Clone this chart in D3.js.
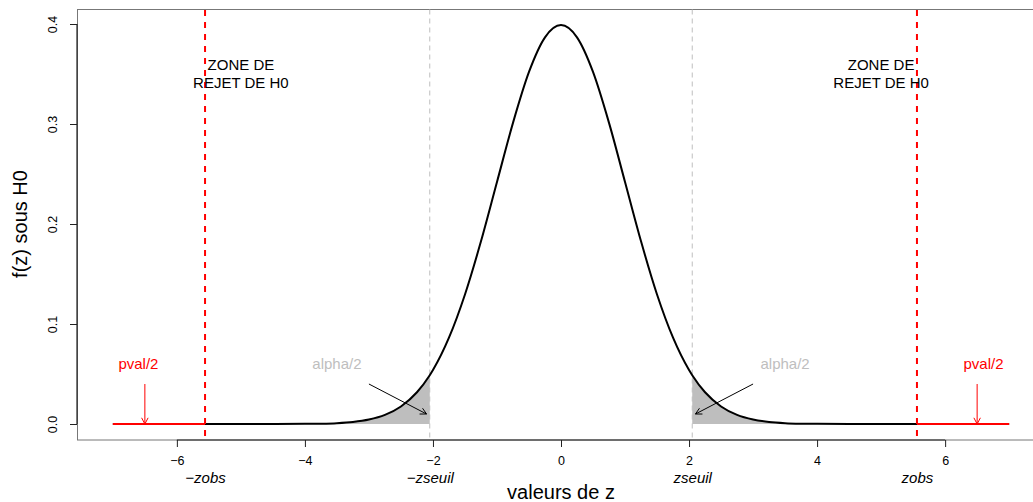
<!DOCTYPE html>
<html>
<head>
<meta charset="utf-8">
<script src="https://cdn.jsdelivr.net/npm/d3@7"></script>
<style>
  html, body { margin: 0; padding: 0; background: #fff; }
  svg { display: block; font-family: "Liberation Sans", Arial, sans-serif; }
</style>
</head>
<body>
<svg id="chart" width="1033" height="502"></svg>
<script>
// Standard normal density under H0, sampled along z
const zValues = [-7, -6, -5, -4.5, -4, -3.75, -3.5, -3.25, -3, -2.75, -2.5, -2.25, -2.05, -2, -1.75, -1.5, -1.25, -1, -0.75, -0.5, -0.25,
                 0, 0.25, 0.5, 0.75, 1, 1.25, 1.5, 1.75, 2, 2.05, 2.25, 2.5, 2.75, 3, 3.25, 3.5, 3.75, 4, 4.5, 5, 6, 7];
const fValues = [0, 0, 0.0000015, 0.000016, 0.000134, 0.000353, 0.000873, 0.002029, 0.004432, 0.009094, 0.017528, 0.031740, 0.048800, 0.053991, 0.086277, 0.129518, 0.182649, 0.241971, 0.301137, 0.352065, 0.386668,
                 0.398942, 0.386668, 0.352065, 0.301137, 0.241971, 0.182649, 0.129518, 0.086277, 0.053991, 0.048800, 0.031740, 0.017528, 0.009094, 0.004432, 0.002029, 0.000873, 0.000353, 0.000134, 0.000016, 0.0000015, 0, 0];

// Thresholds
const zseuil = 2.05;
const zobs = 5.56;

// Axis ticks
const xTicks = [-6, -4, -2, 0, 2, 4, 6];
const yTicks = [0, 0.1, 0.2, 0.3, 0.4];
const critPositions = [-zobs, -zseuil, zseuil, zobs];
const critNames = ["\u2212zobs", "\u2212zseuil", "zseuil", "zobs"];

// Annotations
const zoneX = [-5, 5];
const zoneY = 0.35;
const pvalX = [-6.6, 6.6];
const pvalArrowX = [-6.5, 6.5];
const alphaX = [-3.5, 3.5];
const alphaArrowFrom = [[-3, 0.04], [3, 0.04]];
const alphaArrowTo = [[-2.1, 0.01], [2.1, 0.01]];
const labelY = 0.06;

const curve = zValues.map((z, i) => ({ z, f: fValues[i] }));

const svg = d3.select("#chart");
const x = d3.scaleLinear().domain([-7.56, 7.56]).range([77, 1045]);
const y = d3.scaleLinear().domain([-0.016, 0.416]).range([440, 8]);

const RED = "#ff0000";
const GRAY = "#bebebe";

// plot frame
svg.append("rect")
  .attr("x", 77.5).attr("y", 9.5)
  .attr("width", 1045 - 77).attr("height", 440 - 9.5)
  .attr("fill", "none").attr("stroke", "#777").attr("stroke-width", 1);

const plot = svg.append("g");

// shaded alpha/2 tails
const area = d3.area().x(d => x(d.z)).y0(y(0)).y1(d => y(d.f)).curve(d3.curveMonotoneX);
plot.append("path").datum(curve.filter(d => d.z <= -zseuil + 1e-9))
  .attr("d", area).attr("fill", GRAY);
plot.append("path").datum(curve.filter(d => d.z >= zseuil - 1e-9))
  .attr("d", area).attr("fill", GRAY);

// threshold lines
[-zseuil, zseuil].forEach(v => {
  plot.append("line")
    .attr("x1", x(v)).attr("x2", x(v)).attr("y1", 9.5).attr("y2", 440)
    .attr("stroke", GRAY).attr("stroke-width", 1).attr("stroke-dasharray", "5,4");
});

// density curve
const line = d3.line().x(d => x(d.z)).y(d => y(d.f)).curve(d3.curveMonotoneX);
plot.append("path").datum(curve)
  .attr("d", line).attr("fill", "none").attr("stroke", "#000").attr("stroke-width", 2)
  .attr("stroke-linejoin", "round");

// p-value segments beyond the observed statistic
[[-7, -zobs], [zobs, 7]].forEach(([a, b]) => {
  plot.append("line")
    .attr("x1", x(a)).attr("x2", x(b)).attr("y1", y(0)).attr("y2", y(0))
    .attr("stroke", RED).attr("stroke-width", 2);
});

// observed statistic lines
[-zobs, zobs].forEach(v => {
  plot.append("line")
    .attr("x1", x(v)).attr("x2", x(v)).attr("y1", 10).attr("y2", 440)
    .attr("stroke", RED).attr("stroke-width", 2).attr("stroke-dasharray", "6,6");
});

// rejection zone labels
zoneX.forEach(v => {
  const t = plot.append("text")
    .attr("x", x(v)).attr("y", y(zoneY))
    .attr("text-anchor", "middle").attr("font-size", 15).attr("fill", "#000");
  t.append("tspan").attr("x", x(v)).attr("dy", "-0.25em").text("ZONE DE");
  t.append("tspan").attr("x", x(v)).attr("dy", "1.18em").text("REJET DE H0");
});

function arrow(g, x0, y0, x1, y1, color) {
  g.append("line").attr("x1", x0).attr("y1", y0).attr("x2", x1).attr("y2", y1)
    .attr("stroke", color).attr("stroke-width", 1);
  const ang = Math.atan2(y1 - y0, x1 - x0);
  const len = 7, spread = Math.PI / 6.5;
  [ang + Math.PI - spread, ang + Math.PI + spread].forEach(a => {
    g.append("line").attr("x1", x1).attr("y1", y1)
      .attr("x2", x1 + len * Math.cos(a)).attr("y2", y1 + len * Math.sin(a))
      .attr("stroke", color).attr("stroke-width", 1);
  });
}

// p-value labels and arrows
pvalX.forEach((v, i) => {
  plot.append("text").attr("x", x(v)).attr("y", y(labelY)).attr("dy", "0.35em")
    .attr("text-anchor", "middle").attr("font-size", 15).attr("fill", RED).text("pval/2");
  arrow(plot, x(pvalArrowX[i]), y(0.04), x(pvalArrowX[i]), y(0.0), RED);
});

// alpha labels and arrows
alphaX.forEach((v, i) => {
  plot.append("text").attr("x", x(v)).attr("y", y(labelY)).attr("dy", "0.35em")
    .attr("text-anchor", "middle").attr("font-size", 15).attr("fill", GRAY).text("alpha/2");
  arrow(plot, x(alphaArrowFrom[i][0]), y(alphaArrowFrom[i][1]), x(alphaArrowTo[i][0]), y(alphaArrowTo[i][1]), "#000");
});

// x axis
const xAxis = svg.append("g").attr("transform", "translate(0,440)")
  .call(d3.axisBottom(x).tickValues(xTicks).tickSize(7).tickPadding(9)
    .tickFormat(d => d < 0 ? "\u2212" + Math.abs(d) : String(d)));
xAxis.select(".domain").remove();
xAxis.selectAll(".tick line").attr("stroke", "#222");
xAxis.selectAll(".tick text").attr("font-size", 12.5).attr("fill", "#000")
  .attr("font-family", "Liberation Sans, Arial, sans-serif");
svg.append("line").attr("x1", x(xTicks[0])).attr("x2", x(xTicks[xTicks.length - 1]))
  .attr("y1", 440).attr("y2", 440).attr("stroke", "#222").attr("stroke-width", 1.2);

// critical value labels under the axis
const crit = svg.append("g").attr("transform", "translate(0,440)")
  .call(d3.axisBottom(x).tickValues(critPositions).tickSize(0).tickPadding(38)
    .tickFormat((d, i) => critNames[i]));
crit.select(".domain").remove();
crit.selectAll(".tick text").attr("font-size", 15).attr("font-style", "italic").attr("fill", "#000")
  .attr("font-family", "Liberation Sans, Arial, sans-serif").attr("dy", 0).attr("y", 42.5);

// y axis
const yAxis = svg.append("g").attr("transform", "translate(77,0)")
  .call(d3.axisLeft(y).tickValues(yTicks).tickSize(7).tickFormat(d3.format(".1f")));
yAxis.select(".domain").remove();
yAxis.selectAll(".tick line").attr("stroke", "#222");
yAxis.selectAll(".tick text")
  .attr("font-size", 12.5).attr("fill", "#000")
  .attr("font-family", "Liberation Sans, Arial, sans-serif")
  .attr("x", 0).attr("dy", 0).attr("text-anchor", "middle")
  .attr("transform", "translate(-20,0) rotate(-90)");
svg.append("line").attr("x1", 77).attr("x2", 77)
  .attr("y1", y(yTicks[0])).attr("y2", y(yTicks[yTicks.length - 1]))
  .attr("stroke", "#222").attr("stroke-width", 1.2);

// axis titles
svg.append("text").attr("x", 561).attr("y", 499).attr("text-anchor", "middle")
  .attr("font-size", 20).attr("fill", "#000").text("valeurs de z");
svg.append("text").attr("transform", "translate(27,224) rotate(-90)")
  .attr("text-anchor", "middle").attr("font-size", 20).attr("fill", "#000").text("f(z) sous H0");
</script>
</body>
</html>
